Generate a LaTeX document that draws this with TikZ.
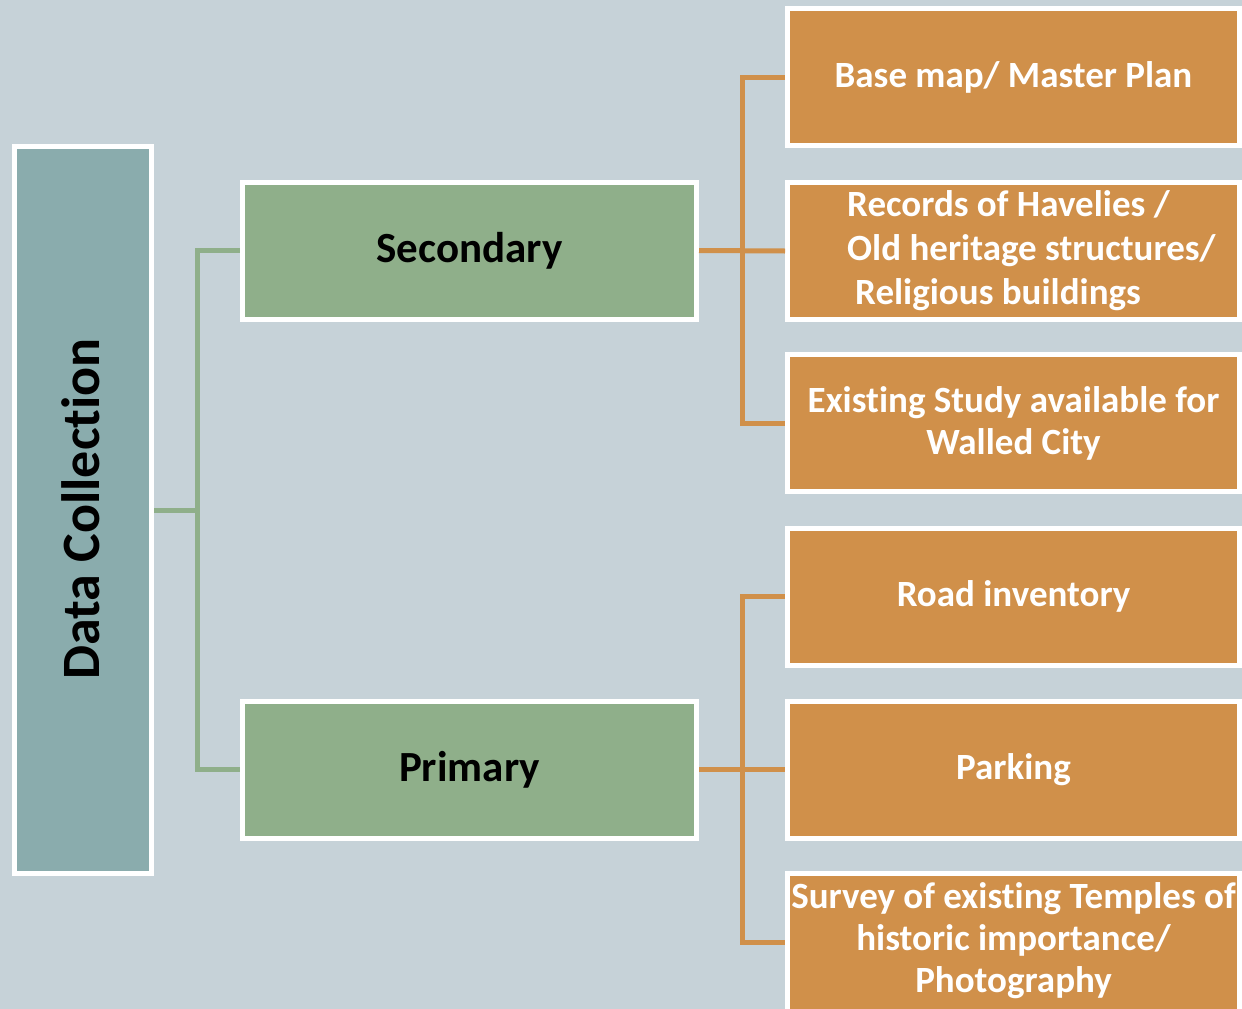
\documentclass[tikz,border=0pt]{standalone}
\usepackage{fontspec}
\setmainfont{Carlito}[Ligatures={NoCommon,TeX}]
\usepackage{tikz}
\usetikzlibrary{calc}

\definecolor{bgcol}{HTML}{C6D2D8}
\definecolor{tealcol}{HTML}{8AACAD}
\definecolor{greencol}{HTML}{8FAF8A}
\definecolor{orangecol}{HTML}{D0904A}

\begin{document}
\begin{tikzpicture}[x=1pt,y=-1pt,
	box/.style={draw=white,line width=5pt,minimum height=137pt,inner sep=0pt},
	dcbox/.style={box,fill=tealcol,minimum width=137pt,minimum height=727pt},
	typebox/.style={box,fill=greencol,minimum width=454pt,font=\fontsize{43}{50}\selectfont\bfseries},
	itemfont/.style={text=white,font=\fontsize{37}{42}\selectfont\bfseries},
	itembox/.style={box,fill=orangecol,minimum width=452pt,align=center,itemfont},
	greenline/.style={draw=greencol,line width=5pt},
	orangeline/.style={draw=orangecol,line width=5pt}]
			%background and size
			\fill[bgcol] (0,0) rectangle (1242,1009);
			\useasboundingbox (0,0) rectangle (1242,1009);
			\clip (0,0) rectangle (1242,1009);
			%draw left box
			\node[dcbox] (dc) at (83,510) {};
			\node[rotate=90,inner sep=0pt,font=\fontsize{54}{60}\selectfont\bfseries] (dclabel) at (81,509) {Data Collection};
			%draw middle boxes
			\node[typebox] (sec) at (469.5,250.5) {Secondary};
			\node[typebox] (pri) at (469.5,769.5) {Primary};
			%draw right boxes
			\node[itembox] (b1) at (1013.5,77) {Base map/ Master Plan};
			\node[itembox] (b2) at (1013.5,251) {};
			\node[itemfont,align=left,anchor=west,inner sep=0pt,font=\fontsize{37}{44}\selectfont\bfseries] (b2text) at (847,251) {Records of Havelies /\\Old heritage structures/\\\hspace{8pt}Religious buildings};
			\node[itembox] (b3) at (1013.5,423) {Existing Study available for\\Walled City};
			\node[itembox] (b4) at (1013.5,596.5) {Road inventory};
			\node[itembox] (b5) at (1013.5,769.5) {Parking};
			\node[itembox,minimum height=160pt] (b6) at (1013.5,953.5) {};
			\node[itemfont,align=center,inner sep=0pt] (b6text) at (1013.5,941) {Survey of existing Temples of\\historic importance/\\Photography};
			%draw green connectors
			\coordinate (dcjoin) at (197,510);
			\draw[greenline] (dc.east) -- (dcjoin);
			\draw[greenline] (dcjoin) |- (sec.west);
			\draw[greenline] (dcjoin) |- (pri.west);
			%draw orange connectors
			\coordinate (secjoin) at (742,250.5);
			\coordinate (prijoin) at (742,769.5);
			\draw[orangeline] (sec.east) -- (b2.west);
			\draw[orangeline] (secjoin) |- (b1.west);
			\draw[orangeline] (secjoin) |- (b3.west);
			\draw[orangeline] (pri.east) -- (b5.west);
			\draw[orangeline] (prijoin) |- (b4.west);
			\draw[orangeline] (prijoin) |- (b6.west |- 0,942);
			\end{tikzpicture}
\end{document}
